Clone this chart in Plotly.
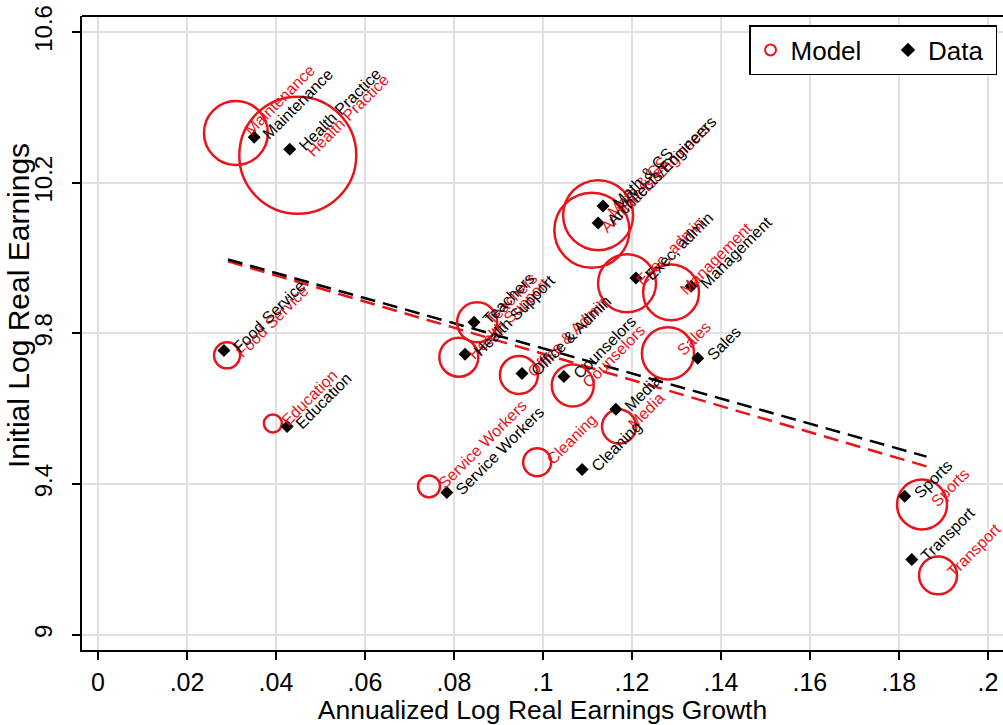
import numpy as np
import plotly.graph_objects as go

# Occupation groups
occupations = [
    "Maintenance", "Health Practice", "Food Service", "Education", "Teachers",
    "Health Support", "Office & Admin", "Counselors", "Media", "Cleaning",
    "Service Workers", "Math & CS", "Architects/Engineers", "Exec, admin",
    "Management", "Sales", "Sports", "Transport",
]

# Observed data: annualized log real earnings growth and initial log real earnings
data_growth = [0.0351, 0.0431, 0.0283, 0.0425, 0.0845, 0.0825, 0.0953, 0.1047, 0.1164,
               0.1088, 0.0784, 0.1135, 0.1124, 0.1209, 0.1333, 0.1348, 0.1813, 0.1829]
data_earnings = [10.321, 10.289, 9.755, 9.553, 9.830, 9.745, 9.694, 9.686, 9.599,
                 9.439, 9.378, 10.138, 10.093, 9.947, 9.925, 9.734, 9.368, 9.200]

# Model predictions
model_growth = [0.0310, 0.0449, 0.0290, 0.0393, 0.0852, 0.0811, 0.0946, 0.1067, 0.1171,
                0.0987, 0.0744, 0.1124, 0.1110, 0.1189, 0.1288, 0.1281, 0.1852, 0.1888]
model_earnings = [10.332, 10.273, 9.742, 9.561, 9.830, 9.737, 9.690, 9.662, 9.553,
                  9.458, 9.394, 10.114, 10.074, 9.933, 9.909, 9.747, 9.346, 9.158]
# Model weights (marker area scales with weight)
model_weight = [10.2, 34.2, 1.69, 0.81, 4.0, 3.8, 3.6, 4.4, 2.9,
                1.96, 1.21, 12.25, 14.1, 8.4, 7.8, 6.8, 6.25, 3.6]

# Span of the fitted lines
fit_x_range = [0.0292, 0.1862]

x_ticks = [0, 0.02, 0.04, 0.06, 0.08, 0.10, 0.12, 0.14, 0.16, 0.18, 0.20]
x_tick_text = ["0", ".02", ".04", ".06", ".08", ".1", ".12", ".14", ".16", ".18", ".2"]
y_ticks = [9.0, 9.4, 9.8, 10.2, 10.6]
y_tick_text = ["9", "9.4", "9.8", "10.2", "10.6"]

RED = "#e8141c"
FONT = "Liberation Sans, Arial, Helvetica, sans-serif"
LABEL_SIZE = 16
NBSP = "\u00a0"

fig = go.Figure()

# Linear fits
fx = np.linspace(fit_x_range[0], fit_x_range[1], 50)
b_model = np.polyfit(model_growth, model_earnings, 1)
b_data = np.polyfit(data_growth, data_earnings, 1)
fig.add_trace(go.Scatter(x=fx, y=np.polyval(b_model, fx), mode="lines",
                         line=dict(color=RED, width=2.5, dash="15px,8px"),
                         showlegend=False, hoverinfo="skip"))
fig.add_trace(go.Scatter(x=fx, y=np.polyval(b_data, fx), mode="lines",
                         line=dict(color="black", width=2.5, dash="15px,8px"),
                         showlegend=False, hoverinfo="skip"))

# Model: hollow circles sized by weight
fig.add_trace(go.Scatter(
    x=model_growth, y=model_earnings, mode="markers",
    marker=dict(symbol="circle-open", color=RED, opacity=1,
                size=[20 * np.sqrt(w) for w in model_weight],
                line=dict(color=RED, width=2.5)),
    showlegend=False, hoverinfo="skip"))

# Data: filled diamonds
fig.add_trace(go.Scatter(
    x=data_growth, y=data_earnings, mode="markers",
    marker=dict(symbol="diamond", color="black", size=10),
    showlegend=False, hoverinfo="skip"))

# Legend entries
fig.add_trace(go.Scatter(x=[None], y=[None], mode="markers", name="Model" + NBSP * 3,
                         marker=dict(symbol="circle-open", color=RED, size=11,
                                     line=dict(color=RED, width=2))))
fig.add_trace(go.Scatter(x=[None], y=[None], mode="markers", name="Data" + NBSP,
                         marker=dict(symbol="diamond", color="black", size=11)))

# Rotated labels starting just right of each marker
h = LABEL_SIZE * 1.3 + 2
corner = 0.354 * h
gap = 11
annotations = []
for xs, ys, color in ((model_growth, model_earnings, RED),
                      (data_growth, data_earnings, "black")):
    for name, xv, yv in zip(occupations, xs, ys):
        annotations.append(dict(
            x=xv, y=yv, xref="x", yref="y", text=name, showarrow=False,
            textangle=-45, xanchor="left", yanchor="bottom",
            xshift=gap - corner, yshift=-corner,
            font=dict(family=FONT, size=LABEL_SIZE, color=color)))

# Vertical axis title
annotations.append(dict(
    x=-0.0695, y=0.544, xref="paper", yref="paper", text="Initial Log Real Earnings",
    showarrow=False, textangle=-90, xanchor="center", yanchor="middle",
    font=dict(family=FONT, size=30, color="black")))

fig.update_layout(
    width=1003, height=725,
    margin=dict(l=82, r=0, t=16, b=75),
    paper_bgcolor="white", plot_bgcolor="white",
    font=dict(family=FONT, color="black"),
    annotations=annotations,
    legend=dict(orientation="h", x=0.9935, xanchor="right", y=0.9858, yanchor="top",
                bgcolor="white", bordercolor="black", borderwidth=1.5,
                font=dict(family=FONT, size=26, color="black")),
    shapes=[dict(type="line", xref="paper", yref="paper", x0=0, x1=1, y0=1, y1=1,
                 line=dict(color="black", width=2))],
)
fig.update_xaxes(
    range=[-0.0036, 0.2034], tickvals=x_ticks, ticktext=x_tick_text,
    showgrid=True, gridcolor="#e0e0e0", gridwidth=1.5, zeroline=False,
    showline=True, linecolor="black", linewidth=2,
    ticks="outside", ticklen=8, tickwidth=1.5, tickcolor="black",
    ticklabelstandoff=1,
    tickfont=dict(family=FONT, size=25),
    title=dict(text="Annualized Log Real Earnings Growth",
               font=dict(family=FONT, size=26.5), standoff=4),
)
fig.update_yaxes(
    range=[8.96, 10.6425], tickvals=y_ticks, ticktext=y_tick_text,
    showgrid=True, gridcolor="#e0e0e0", gridwidth=1.5, zeroline=False,
    showline=True, linecolor="black", linewidth=2,
    ticks="outside", ticklen=8, tickwidth=1.5, tickcolor="black",
    tickangle=-90, ticklabelstandoff=10,
    tickfont=dict(family=FONT, size=24),
)

fig.write_html("out.html")
